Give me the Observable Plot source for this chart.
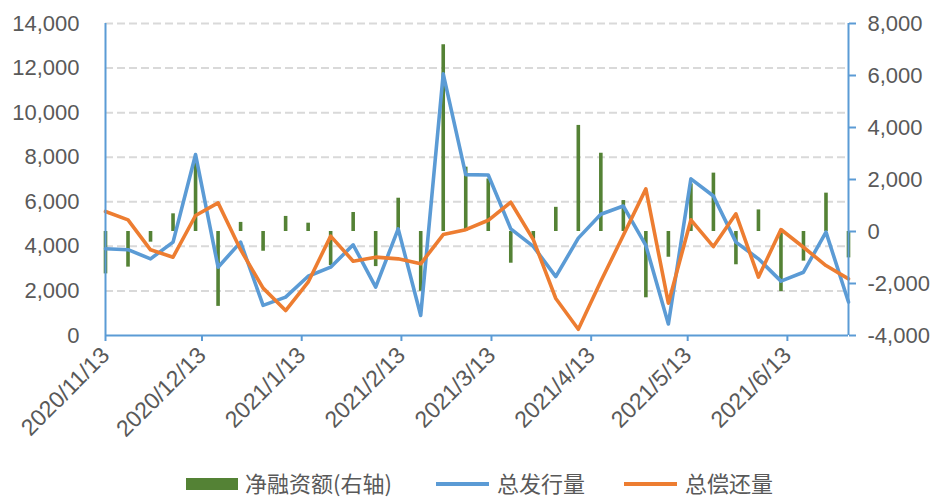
<!DOCTYPE html>
<html><head><meta charset="utf-8">
<script src="https://cdn.jsdelivr.net/npm/d3@7"></script>
<script src="https://cdn.jsdelivr.net/npm/@observablehq/plot@0.6"></script>
<style>
body{margin:0;background:#fff;}
#wrap{position:relative;width:946px;height:499px;overflow:hidden;background:#fff;}
#legend{position:absolute;left:0;top:467px;width:946px;height:30px;}
.sw{position:absolute;}
.lt{position:absolute;top:0;font-size:22px;line-height:30px;height:30px;color:#595959;font-family:"Noto Sans CJK SC","Noto Sans",sans-serif;white-space:nowrap;}
</style></head><body>
<div id="wrap"><div id="chart"></div><div id="legend"></div></div>
<script>
// ---- data ----
const dates = ["2020-11-13","2020-11-20","2020-11-27","2020-12-04","2020-12-11","2020-12-18","2020-12-25",
  "2021-01-01","2021-01-08","2021-01-15","2021-01-22","2021-01-29","2021-02-05","2021-02-12","2021-02-19",
  "2021-02-26","2021-03-05","2021-03-12","2021-03-19","2021-03-26","2021-04-02","2021-04-09","2021-04-16",
  "2021-04-23","2021-04-30","2021-05-07","2021-05-14","2021-05-21","2021-05-28","2021-06-04","2021-06-11",
  "2021-06-18","2021-06-25","2021-07-02"];
const issuance = [3890,3850,3440,4190,8120,3065,4190,1350,1720,2660,3065,4070,2170,4785,900,
  11740,7220,7200,4785,4000,2640,4370,5440,5810,4040,520,7030,6260,4190,3440,2440,2840,4640,1500];
const repayment = [5565,5190,3845,3515,5385,5950,3850,2125,1120,2390,4460,3335,3515,3440,3215,
  4530,4750,5170,5980,4300,1660,280,2430,4500,6580,1450,5190,3990,5460,2620,4755,3960,3140,2540];
const netFinancing = [-1630,-1370,-410,680,2735,-2880,350,-760,580,320,-1310,730,-1350,1280,-2300,
  7180,2475,2020,-1220,-300,930,4080,3010,1190,-2550,-990,1830,2245,-1280,830,-2310,-1140,1475,-1015];
const leftTicks = [0,2000,4000,6000,8000,10000,12000,14000];
const rightTicks = [-4000,-2000,0,2000,4000,6000,8000];
const monthTicks = ["2020-11-13","2020-12-13","2021-01-13","2021-02-13","2021-03-13","2021-04-13","2021-05-13","2021-06-13"];
const seriesNames = ["净融资额(右轴)","总发行量","总偿还量"];
const seriesColors = ["#548235","#5B9BD5","#ED7D31"];

// ---- build ----
const parse = d3.utcParse("%Y-%m-%d");
const rows = dates.map((d,i)=>({date:parse(d), issue:issuance[i], repay:repayment[i], net:netFinancing[i]}));
const lMin=leftTicks[0], lMax=leftTicks[leftTicks.length-1];
const rMin=rightTicks[0], rMax=rightTicks[rightTicks.length-1];
const toLeft = v => (v-rMin)*(lMax-lMin)/(rMax-rMin)+lMin;
const fromLeft = v => (v-lMin)*(rMax-rMin)/(lMax-lMin)+rMin;
const fmt = v => { const r=Math.round(v); return (r<0?"-":"")+d3.format(",")(Math.abs(r)); };
const axisBlue = "#5B9BD5";
const W=946,H=467;
const first=rows[0].date, last=rows[rows.length-1].date;

const chart = Plot.plot({
  width:W, height:H,
  marginLeft:105, marginRight:98, marginTop:23, marginBottom:H-335,
  x:{type:"utc", domain:[first,last]},
  y:{domain:[lMin,lMax]},
  style:{fontFamily:"'Liberation Sans', Arial, sans-serif", fontSize:"22px", background:"#fff", color:"#595959"},
  marks:[
    Plot.gridY(leftTicks.filter(v=>v>lMin), {stroke:"#d9d9d9", strokeOpacity:1, strokeWidth:2, strokeDasharray:"8,4"}),
    Plot.ruleX(rows, {x:"date", y1:()=>toLeft(0), y2:d=>toLeft(d.net), stroke:seriesColors[0], strokeWidth:3.6}),
    Plot.line(rows, {x:"date", y:"issue", stroke:seriesColors[1], strokeWidth:3.6}),
    Plot.line(rows, {x:"date", y:"repay", stroke:seriesColors[2], strokeWidth:3.6}),
    Plot.ruleX([first], {stroke:axisBlue, strokeWidth:2}),
    Plot.ruleX([last], {stroke:axisBlue, strokeWidth:2}),
    Plot.ruleY([lMin], {stroke:axisBlue, strokeWidth:2}),
    Plot.axisY(leftTicks, {anchor:"left", tickSize:0, tickPadding:26, tickFormat:fmt, fill:"#595959", label:null}),
    Plot.axisY(rightTicks.map(toLeft), {anchor:"right", tickSize:7, tickPadding:12, stroke:axisBlue, strokeWidth:2, fill:"#595959", tickFormat:v=>fmt(fromLeft(v)), label:null}),
    Plot.axisX(monthTicks.map(parse), {anchor:"bottom", tickSize:6, stroke:axisBlue, strokeWidth:2, tickRotate:-45, tickPadding:10, fontSize:23, fill:"#595959", tickFormat:d3.utcFormat("%Y/%-m/%-d"), label:null})
  ]
});
document.getElementById("chart").appendChild(chart);

// ---- legend ----
const lg = document.getElementById("legend");
const items = [
  {sx:186, sw:52, sh:12, tx:245},
  {sx:436, sw:53, sh:4, tx:497},
  {sx:624, sw:53, sh:4, tx:685}
];
items.forEach((it,i)=>{
  const s=document.createElement("div");
  s.className="sw";
  s.style.left=it.sx+"px"; s.style.width=it.sw+"px"; s.style.height=it.sh+"px";
  s.style.top=(17-it.sh/2)+"px"; s.style.background=seriesColors[i];
  lg.appendChild(s);
  const t=document.createElement("div");
  t.className="lt"; t.style.left=it.tx+"px"; t.textContent=seriesNames[i];
  lg.appendChild(t);
});
</script>
</body></html>
